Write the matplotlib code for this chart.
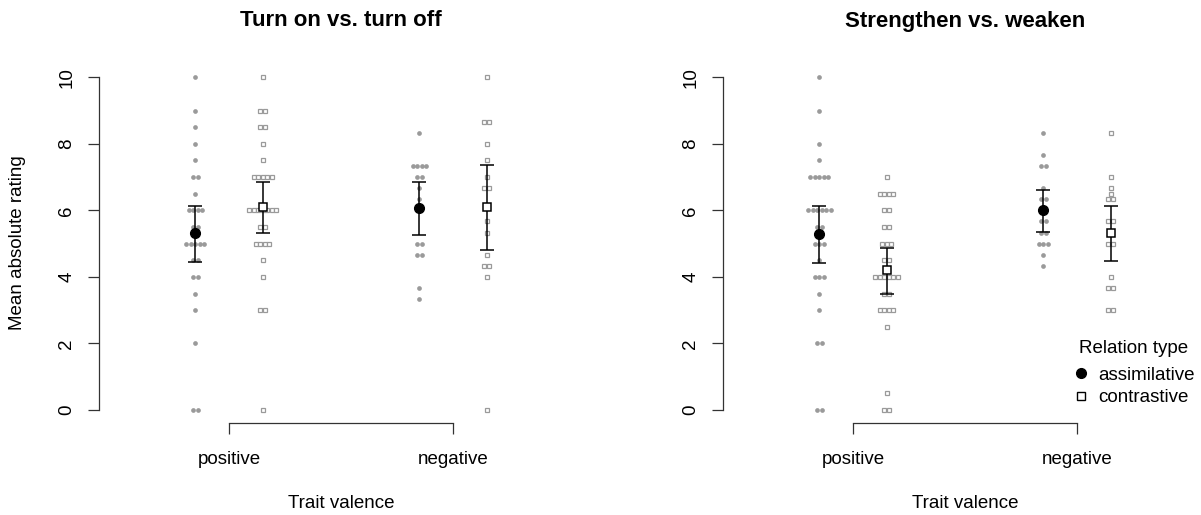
import numpy as np
import matplotlib
matplotlib.use("Agg")
import matplotlib.pyplot as plt
from matplotlib.lines import Line2D

plt.rcParams['font.family'] = ['Liberation Sans', 'DejaVu Sans']

# ---- data ----
valence = ["positive", "negative"]
panel_titles = ["Turn on vs. turn off", "Strengthen vs. weaken"]

# turn on vs. turn off
on_pos_assim = [10, 9, 8.5, 8, 7.5, 7, 7, 6.5, 6, 6, 6, 6, 5.5, 5.5, 5, 5, 5, 5, 5,
                4.5, 4.5, 4, 4, 3.5, 3, 2, 0, 0]
on_pos_contr = [10, 9, 9, 8.5, 8.5, 8, 7.5, 7, 7, 7, 7, 7, 6, 6, 6, 6, 6, 6, 6,
                5.5, 5.5, 5, 5, 5, 5, 4.5, 4, 3, 3, 0]
on_neg_assim = [8.33, 7.33, 7.33, 7.33, 7.33, 7, 7, 6.67, 6.33, 5, 5, 4.67, 4.67, 3.67, 3.33]
on_neg_contr = [10, 8.67, 8.67, 8, 7.5, 7, 6.67, 6.67, 5.67, 5.33, 4.67, 4.33, 4.33, 4, 0]

# strengthen vs. weaken
st_pos_assim = [10, 9, 8, 7.5, 7, 7, 7, 7, 7, 6, 6, 6, 6, 6, 6, 5.5, 5.5, 5, 5, 5,
                4.5, 4, 4, 4, 3.5, 3, 2, 2, 0, 0]
st_pos_contr = [7, 6.5, 6.5, 6.5, 6.5, 6, 6, 5.5, 5.5, 5, 5, 5, 4.5, 4.5, 4, 4, 4, 4, 4, 4,
                3.5, 3.5, 3, 3, 3, 3, 2.5, 0.5, 0, 0]
st_neg_assim = [8.33, 7.67, 7.33, 7.33, 6.67, 6.33, 6.33, 5.67, 5.67, 5.33, 5.33,
                5, 5, 5, 4.67, 4.33]
st_neg_contr = [8.33, 7, 6.67, 6.5, 6.33, 6.33, 5.67, 5.67, 5, 5, 4, 3.67, 3.67, 3, 3]

# error bar limits (lower, upper) per group: pos-assim, pos-contr, neg-assim, neg-contr
on_ci = [(4.46, 6.12), (5.32, 6.85), (5.26, 6.84), (4.81, 7.36)]
st_ci = [(4.41, 6.14), (3.48, 4.86), (5.36, 6.62), (4.49, 6.12)]

panels = [
    (panel_titles[0], [on_pos_assim, on_pos_contr, on_neg_assim, on_neg_contr], on_ci),
    (panel_titles[1], [st_pos_assim, st_pos_contr, st_neg_assim, st_neg_contr], st_ci),
]

W, H = 1201, 515
fig = plt.figure(figsize=(W / 100, H / 100), dpi=100)

grey = '#9a9a9a'
step = 0.02      # horizontal stacking step for tied values
shift = 0.15     # assimilative left, contrastive right of the tick
fs = 13.5

lefts = [99, 723]
for k, (title, groups, cis) in enumerate(panels):
    ax = fig.add_axes([lefts[k] / W, (H - 423.3) / H, 484 / W, (423.3 - 64) / H])
    ax.set_xlim(0.42, 2.58)
    ax.set_ylim(-0.4, 10.4)

    for g, vals in enumerate(groups):
        centre = 1 + g // 2 + (-shift if g % 2 == 0 else shift)
        vals = np.asarray(vals, dtype=float)
        xs = np.empty_like(vals)
        for v in np.unique(vals):
            idx = np.where(vals == v)[0]
            n = len(idx)
            xs[idx] = centre + (np.arange(n) - (n - 1) / 2) * step
        if g % 2 == 0:
            ax.plot(xs, vals, 'o', ms=3.4, color=grey, mec='none', zorder=2)
        else:
            ax.plot(xs, vals, 's', ms=3.0, mfc='white', mec=grey, mew=0.9, zorder=2)

        m = vals.mean()
        lo, hi = cis[g]
        ax.errorbar([centre], [m], yerr=[[m - lo], [hi - m]], fmt='none',
                    ecolor='black', elinewidth=1.1, capsize=5, capthick=1.1, zorder=3)
        if g % 2 == 0:
            ax.plot([centre], [m], 'o', ms=7, color='black', zorder=4)
        else:
            ax.plot([centre], [m], 's', ms=6.2, mfc='white', mec='black', mew=1.1, zorder=4)

    for s in ['top', 'right']:
        ax.spines[s].set_visible(False)
    ax.spines['left'].set_bounds(0, 10)
    ax.spines['bottom'].set_bounds(1, 2)
    for s in ['left', 'bottom']:
        ax.spines[s].set_linewidth(0.9)
        ax.spines[s].set_color('#333333')

    ax.set_yticks([0, 2, 4, 6, 8, 10])
    ax.set_yticklabels(['0', '2', '4', '6', '8', '10'], rotation=90, va='center')
    ax.set_xticks([1, 2])
    ax.set_xticklabels(valence)
    ax.tick_params(axis='both', length=8, width=0.9, color='#333333', labelsize=fs)
    ax.tick_params(axis='y', pad=9)
    ax.tick_params(axis='x', pad=12)

    cx = (lefts[k] + 242) / W
    fig.text(cx, 1 - 21 / H, title, ha='center', va='center', fontsize=16, fontweight='bold')
    fig.text(cx, 1 - 503 / H, "Trait valence", ha='center', va='center', fontsize=fs)

fig.text(18 / W, 1 - 243 / H, "Mean absolute rating", rotation=90,
         ha='center', va='center', fontsize=fs)

handles = [Line2D([], [], ls='none', marker='o', ms=7, color='black'),
           Line2D([], [], ls='none', marker='s', ms=6, mfc='white', mec='black', mew=1)]
leg = fig.legend(handles, ['assimilative', 'contrastive'], title='Relation type',
                 loc='center', bbox_to_anchor=(1134 / W, 1 - 375 / H),
                 frameon=False, fontsize=fs, title_fontsize=fs,
                 handlelength=0.8, handletextpad=0.5, labelspacing=0.3,
                 borderpad=0, borderaxespad=0)
leg.get_title().set_position((0, 4))

fig.savefig('out.png', dpi=100)
